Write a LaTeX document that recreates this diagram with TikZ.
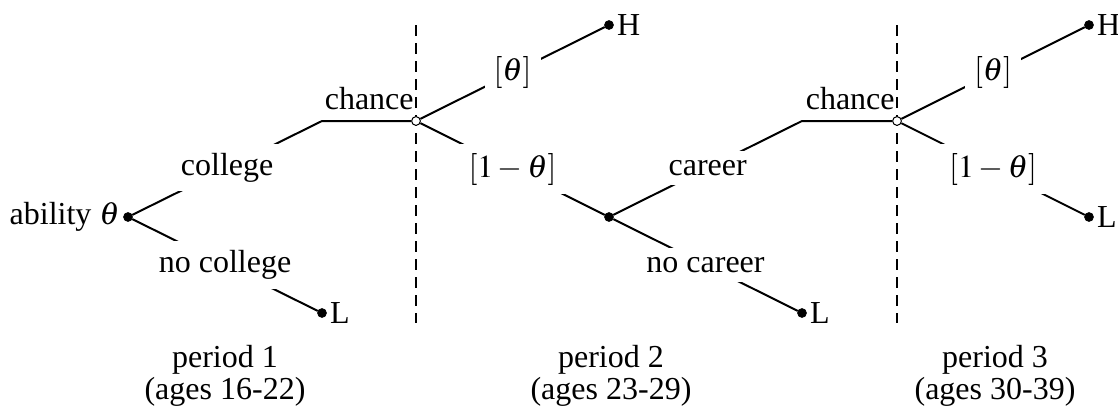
\documentclass[tikz,border=0pt]{standalone}
\usepackage{mathptmx}
\usepackage{fontspec}
\setmainfont{Liberation Serif}
\begin{document}
\begin{tikzpicture}[x=0.5pt,y=-0.5pt,
  every node/.style={font=\fontsize{16}{16.5}\selectfont},
  branch/.style={line width=1pt},
  divider/.style={line width=0.85pt, dash pattern=on 5.5pt off 3.5pt},
  decision/.style={circle, fill=black, draw=black, inner sep=0pt, minimum size=4.4pt},
  chancept/.style={circle, fill=white, draw=black, line width=0.5pt, inner sep=0pt, minimum size=4.4pt},
  lbl/.style={fill=white, inner sep=4.5pt, midway},
  endlbl/.style={anchor=west, inner sep=1.5pt},
  caption/.style={align=center, font=\fontsize{16}{16}\selectfont}]
\useasboundingbox (0,0) rectangle (1118,407);

% period dividers
\coordinate (d1t) at (416,25);  \coordinate (d1b) at (416,323);
\coordinate (d2t) at (897,25);  \coordinate (d2b) at (897,323);
\draw[divider] (d1t) -- (d1b);
\draw[divider] (d2t) -- (d2b);

% period 1: schooling choice
\node[decision] (root) at (128,217) {};
\node[anchor=east, inner sep=1.5pt] (abil) at (root.west) {ability $\theta$};
\coordinate (k1) at (322,121);
\node[chancept] (c1) at (416,121) {};
\node[decision] (L1) at (322,313) {};
\node[endlbl] (L1t) at (L1.east) {L};
\draw[branch] (root) -- node[lbl] {college} (k1) -- (c1);
\draw[branch] (root) -- node[lbl] {no college} (L1);
\node[anchor=south east, inner sep=0pt] (ch1) at ([xshift=-1pt,yshift=5.5pt]c1.center) {chance};

% period 2: outcome of chance, then career choice
\node[decision] (H1) at (609,25) {};
\node[endlbl] (H1t) at (H1.east) {H};
\node[decision] (n2) at (609,217) {};
\draw[branch] (c1) -- node[lbl] {$[\theta]$} (H1);
\draw[branch] (c1) -- node[lbl] {$[1-\theta]$} (n2);
\coordinate (k2) at (802,121);
\node[chancept] (c2) at (897,121) {};
\node[decision] (L2) at (802,313) {};
\node[endlbl] (L2t) at (L2.east) {L};
\draw[branch] (n2) -- node[lbl] {career} (k2) -- (c2);
\draw[branch] (n2) -- node[lbl] {no career} (L2);
\node[anchor=south east, inner sep=0pt] (ch2) at ([xshift=-1pt,yshift=5.5pt]c2.center) {chance};

% period 3: outcome of chance
\node[decision] (H2) at (1089,25) {};
\node[endlbl] (H2t) at (H2.east) {H};
\node[decision] (L3) at (1089,217) {};
\node[endlbl] (L3t) at (L3.east) {L};
\draw[branch] (c2) -- node[lbl] {$[\theta]$} (H2);
\draw[branch] (c2) -- node[lbl] {$[1-\theta]$} (L3);

% period captions
\node[caption] (p1) at (225,376) {period 1\\(ages 16-22)};
\node[caption] (p2) at (611,376) {period 2\\(ages 23-29)};
\node[caption] (p3) at (995,376) {period 3\\(ages 30-39)};
\end{tikzpicture}
\end{document}
